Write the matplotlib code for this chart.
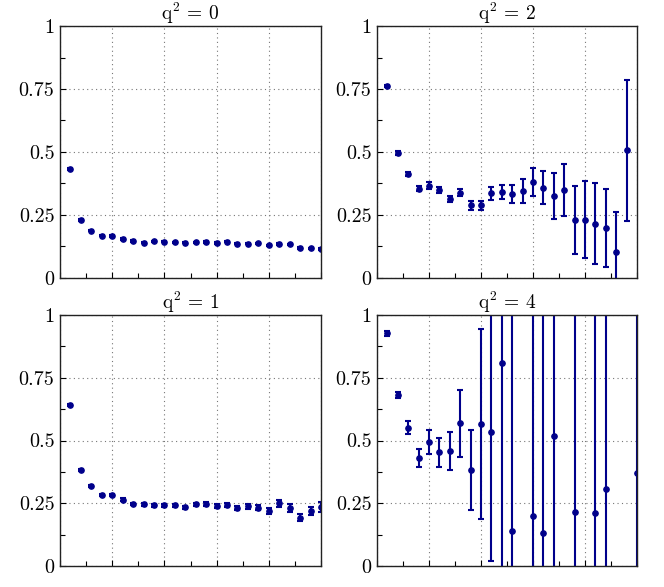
import numpy as np
import matplotlib
matplotlib.use("Agg")
import matplotlib.pyplot as plt
from matplotlib.ticker import MultipleLocator, FixedLocator, NullFormatter

plt.rcParams["font.family"] = ["cmr10"]
plt.rcParams["mathtext.fontset"] = "cm"
plt.rcParams["axes.unicode_minus"] = False

nan = np.nan

# panel data: x index, value, error
x25 = np.arange(1, 26)
x24 = np.arange(1, 25)

q0_val = [0.433, 0.230, 0.188, 0.168, 0.166, 0.155, 0.147, 0.140, 0.145, 0.144,
          0.141, 0.140, 0.141, 0.143, 0.139, 0.144, 0.136, 0.136, 0.137, 0.129,
          0.135, 0.133, 0.120, 0.118, 0.115]
q0_err = [0.003] * 25

q1_val = [0.641, 0.384, 0.319, 0.283, 0.283, 0.264, 0.247, 0.246, 0.242, 0.243,
          0.242, 0.235, 0.246, 0.247, 0.240, 0.244, 0.231, 0.238, 0.232, 0.220,
          0.250, 0.231, 0.193, 0.218, 0.235]
q1_err = [0.004, 0.004, 0.004, 0.005, 0.005, 0.005, 0.005, 0.005, 0.005, 0.006,
          0.006, 0.006, 0.006, 0.007, 0.007, 0.007, 0.008, 0.009, 0.010, 0.012,
          0.013, 0.015, 0.015, 0.016, 0.018]

q2_val = [0.762, 0.497, 0.411, 0.355, 0.367, 0.351, 0.314, 0.339, 0.288, 0.288,
          0.337, 0.341, 0.333, 0.346, 0.382, 0.359, 0.326, 0.351, 0.231, 0.231,
          0.215, 0.197, 0.102, 0.506]
q2_err = [0.005, 0.008, 0.008, 0.010, 0.012, 0.012, 0.012, 0.015, 0.018, 0.018,
          0.026, 0.028, 0.037, 0.048, 0.056, 0.067, 0.090, 0.103, 0.136, 0.153,
          0.160, 0.155, 0.160, 0.280]

q4_val = [0.927, 0.683, 0.551, 0.432, 0.494, 0.453, 0.458, 0.568, 0.382, 0.566,
          0.534, 0.810, 0.141, nan, 0.200, 0.131, 0.518, nan, 0.215, nan,
          0.212, 0.308, nan, nan, 0.369]
q4_err = [0.010, 0.012, 0.027, 0.036, 0.046, 0.057, 0.075, 0.134, 0.160, 0.380,
          0.513, 1.0, 1.0, nan, 1.0, 1.0, 1.0, nan, 1.0, nan,
          1.0, 1.0, nan, nan, 1.0]

panels = [
    ("q$^2$ = 0", x25, q0_val, q0_err, [60, 26, 321, 278]),
    ("q$^2$ = 2", x24, q2_val, q2_err, [377, 26, 637, 278]),
    ("q$^2$ = 1", x25, q1_val, q1_err, [60, 315, 321, 566]),
    ("q$^2$ = 4", x25, q4_val, q4_err, [377, 315, 637, 566]),
]

W, H = 664, 587
color = "#00008b"
fig = plt.figure(figsize=(W / 100, H / 100), dpi=100)

for title, x, val, err, (l, t, r, b) in panels:
    ax = fig.add_axes([l / W, 1 - b / H, (r - l) / W, (b - t) / H])
    ax.errorbar(x, val, yerr=err, fmt="o", ms=3.8, color=color, ecolor=color,
                elinewidth=1.5, capsize=2.2, capthick=1.5)
    ax.set_xlim(0, 25)
    ax.set_ylim(0, 1)
    ax.xaxis.set_major_locator(MultipleLocator(5))
    ax.xaxis.set_minor_locator(MultipleLocator(2.5))
    ax.xaxis.set_major_formatter(NullFormatter())
    ax.yaxis.set_major_locator(FixedLocator([0, 0.25, 0.5, 0.75, 1]))
    ax.yaxis.set_minor_locator(MultipleLocator(0.125))
    ax.set_yticklabels(["0", "0.25", "0.5", "0.75", "1"])
    ax.tick_params(which="both", direction="in", top=False, right=False,
                   labelsize=14.5, width=0.8, color="black", pad=4)
    ax.tick_params(which="major", length=4)
    ax.tick_params(which="minor", length=3.5)
    ax.grid(True, which="major", linestyle=(0, (1, 3)), color="#777777", linewidth=0.8)
    for s in ax.spines.values():
        s.set_linewidth(1.0)
        s.set_color("#222222")
    ax.set_title(title, fontsize=14, pad=2)

fig.savefig("out.png", dpi=100)
